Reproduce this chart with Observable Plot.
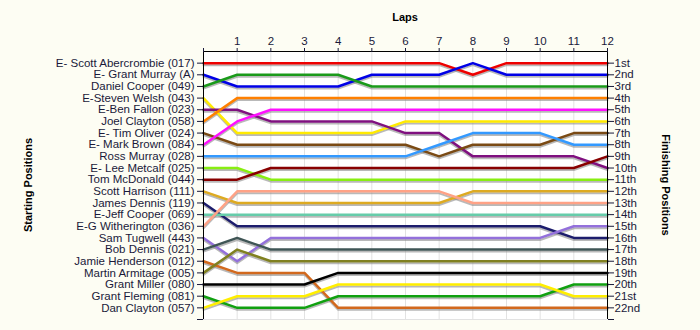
<!DOCTYPE html>
<html>
<head>
<meta charset="utf-8">
<script src="https://cdn.jsdelivr.net/npm/d3@7"></script>
<script src="https://cdn.jsdelivr.net/npm/@observablehq/plot@0.6"></script>
<style>
  html, body { margin: 0; padding: 0; background: #fdfdf3; }
  #chart svg { display: block; }
</style>
</head>
<body>
<div id="chart"></div>
<script>
const drivers = [
  "E- Scott Abercrombie (017)", "E- Grant Murray (A)", "Daniel Cooper (049)", "E-Steven Welsh (043)",
  "E-Ben Fallon (023)", "Joel Clayton (058)", "E- Tim Oliver (024)", "E- Mark Brown (084)",
  "Ross Murray (028)", "E- Lee Metcalf (025)", "Tom McDonald (044)", "Scott Harrison (111)",
  "James Dennis (119)", "E-Jeff Cooper (069)", "E-G Witherington (036)", "Sam Tugwell (443)",
  "Bob Dennis (021)", "Jamie Henderson (012)", "Martin Armitage (005)", "Grant Miller (080)",
  "Grant Fleming (081)", "Dan Clayton (057)"
];
const finishLabels = ["1st","2nd","3rd","4th","5th","6th","7th","8th","9th","10th","11th",
  "12th","13th","14th","15th","16th","17th","18th","19th","20th","21st","22nd"];
const laps = [0,1,2,3,4,5,6,7,8,9,10,11,12];
const lapTickLabels = ["","1","2","3","4","5","6","7","8","9","10","11","12"];
// position of each driver after each lap (lap 0 = start)
const positions = [
  [1,1,1,1,1,1,1,1,2,1,1,1,1],
  [2,3,3,3,3,2,2,2,1,2,2,2,2],
  [3,2,2,2,2,3,3,3,3,3,3,3,3],
  [4,7,7,7,7,7,6,6,6,6,6,6,6],
  [5,5,6,6,6,6,7,7,9,9,9,9,10],
  [6,4,4,4,4,4,4,4,4,4,4,4,4],
  [7,8,8,8,8,8,8,9,8,8,8,7,7],
  [8,6,5,5,5,5,5,5,5,5,5,5,5],
  [9,9,9,9,9,9,9,8,7,7,7,8,8],
  [10,10,11,11,11,11,11,11,11,11,11,11,11],
  [11,11,10,10,10,10,10,10,10,10,10,10,9],
  [12,13,13,13,13,13,13,13,12,12,12,12,12],
  [13,15,15,15,15,15,15,15,15,15,15,16,16],
  [14,14,14,14,14,14,14,14,14,14,14,14,14],
  [15,12,12,12,12,12,12,12,13,13,13,13,13],
  [16,18,16,16,16,16,16,16,16,16,16,15,15],
  [17,16,17,17,17,17,17,17,17,17,17,17,17],
  [18,19,19,19,22,22,22,22,22,22,22,22,22],
  [19,17,18,18,18,18,18,18,18,18,18,18,18],
  [20,20,20,20,19,19,19,19,19,19,19,19,19],
  [21,22,22,22,21,21,21,21,21,21,21,20,20],
  [22,21,21,21,20,20,20,20,20,20,20,21,21]
];
const colors = [
  "#ee0000","#0000e6","#1a9a1a","#ffea00","#7f107f","#ff8000","#7a4a14","#ff10ff",
  "#3399ff","#88ee11","#880000","#ddaa22","#1c1c6c","#66ccaa","#ffa286","#9370db",
  "#3f5555","#d2691e","#808020","#000000","#10a010","#ffee00"
];

const rows = [];
drivers.forEach((d, i) => laps.forEach((lap, j) => rows.push({driver: d, lap, pos: positions[i][j], color: colors[i]})));

const posTicks = d3.range(1, 24);
const textColor = "#1a1a3a";

const chart = Plot.plot({
  width: 700,
  height: 330,
  marginLeft: 203,
  marginRight: 93,
  marginTop: 51,
  marginBottom: 11,
  style: {background: "#fdfdf3", fontFamily: "Liberation Sans, Arial, sans-serif", fontSize: "11.5px", color: textColor},
  x: {domain: [0, 12]},
  y: {domain: [0, 23], reverse: true},
  marks: [
    Plot.frame({fill: "#ffffff", stroke: null}),
    Plot.ruleX(laps, {y1: 0, y2: 23, stroke: "#e2e2e2", strokeWidth: 1}),
    Plot.ruleY([23], {x1: 0, x2: 12, stroke: "#e2e2e2"}),
    Plot.line(rows, {x: "lap", y: "pos", z: "driver", stroke: "#8a8a8a", strokeWidth: 2, strokeOpacity: 0.6, dy: 2, curve: "linear"}),
    Plot.line(rows, {x: "lap", y: "pos", z: "driver", stroke: "color", strokeWidth: 2.5, curve: "linear"}),
    Plot.ruleY([0], {x1: 0, x2: 12, stroke: "#000"}),
    Plot.ruleX([0, 12], {y1: 0, y2: 23, stroke: "#000"}),
    Plot.axisX({anchor: "top", ticks: laps, tickFormat: d => lapTickLabels[laps.indexOf(d)], tickSize: 4, tickPadding: 3, label: null, fontSize: 11.5, color: textColor}),
    Plot.axisY({anchor: "left", ticks: posTicks, tickFormat: d => drivers[d - 1] ?? "", tickSize: 6, tickPadding: 3, label: null, fontSize: 11.5, color: textColor}),
    Plot.axisY({anchor: "right", ticks: posTicks, tickFormat: d => finishLabels[d - 1] ?? "", tickSize: 6, tickPadding: 1, label: null, fontSize: 11.5, color: textColor})
  ]
});

const svg = d3.select(chart);
svg.append("text").attr("x", 405).attr("y", 21).attr("text-anchor", "middle")
  .attr("font-weight", "bold").attr("font-size", 11).attr("fill", "#000").text("Laps");
svg.append("text").attr("transform", "translate(32,185) rotate(-90)").attr("text-anchor", "middle")
  .attr("font-weight", "bold").attr("font-size", 11).attr("fill", "#000").text("Starting Positions");
svg.append("text").attr("transform", "translate(662,185) rotate(90)").attr("text-anchor", "middle")
  .attr("font-weight", "bold").attr("font-size", 11).attr("fill", "#000").text("Finishing Positions");

document.getElementById("chart").appendChild(chart);
</script>
</body>
</html>
